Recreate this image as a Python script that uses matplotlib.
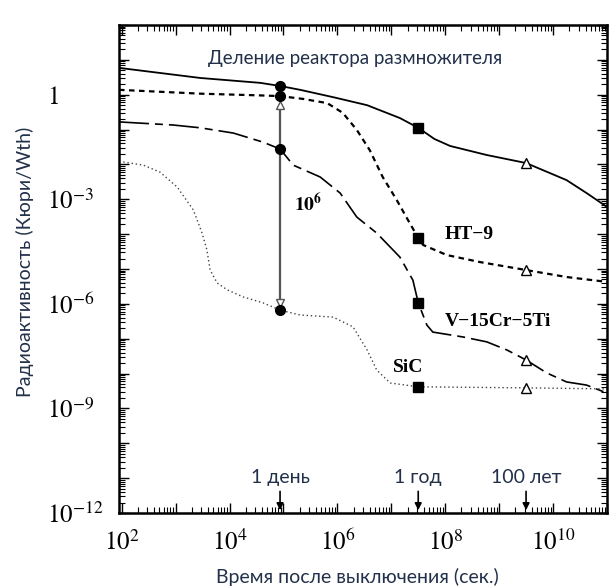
import numpy as np
import matplotlib
matplotlib.use("Agg")
import matplotlib.pyplot as plt
from matplotlib.ticker import LogLocator, FuncFormatter, NullFormatter

plt.rcParams['mathtext.fontset'] = 'stix'

# log10 of time (s) and activity (Ci/Wth)
breeder_t = [1.95, 3.46, 4.57, 4.94, 5.31, 5.92, 6.55, 7.16, 7.50, 7.80, 8.09, 8.77, 9.50, 10.25, 10.62, 11.0]
breeder_a = [0.77, 0.48, 0.34, 0.25, 0.14, -0.07, -0.30, -0.67, -0.95, -1.27, -1.47, -1.73, -1.96, -2.45, -2.82, -3.22]

ht9_t = [1.95, 3.46, 4.57, 4.94, 5.36, 5.81, 6.10, 6.36, 6.60, 6.84, 7.10, 7.34, 7.50, 7.59, 8.03, 8.64, 9.50, 10.25, 11.0]
ht9_a = [0.14, 0.03, -0.02, -0.04, -0.12, -0.24, -0.52, -1.01, -1.59, -2.36, -3.02, -3.68, -4.11, -4.31, -4.60, -4.80, -5.03, -5.23, -5.37]

v_t = [1.95, 2.96, 3.46, 4.07, 4.62, 4.94, 5.18, 5.68, 6.05, 6.36, 6.73, 7.16, 7.40, 7.50, 7.66, 7.77, 8.33, 8.77, 9.14, 9.50, 9.88, 10.25, 10.62, 11.0]
v_a = [-0.78, -0.87, -0.95, -1.10, -1.36, -1.56, -2.02, -2.36, -2.82, -3.51, -3.97, -4.66, -5.32, -5.97, -6.61, -6.81, -6.95, -7.09, -7.32, -7.61, -7.98, -8.24, -8.33, -8.56]

sic_t = [2.03, 2.40, 2.71, 3.03, 3.33, 3.49, 3.58, 3.64, 3.77, 3.96, 4.25, 4.62, 4.94, 5.31, 5.92, 6.29, 6.55, 6.73, 6.98, 7.50, 9.50, 11.0]
sic_a = [-1.93, -2.02, -2.22, -2.65, -3.31, -3.97, -4.45, -5.03, -5.40, -5.60, -5.80, -5.97, -6.18, -6.32, -6.38, -6.66, -7.32, -7.90, -8.27, -8.38, -8.41, -8.44]

# marker times: 1 day, 1 year, 100 years
t_day, t_year, t_century = 86400, 3.156e7, 3.156e9
day_a = [0.25, -0.04, -1.56, -6.18]
year_a = [-0.95, -4.11, -5.97, -8.38]
century_a = [-1.96, -5.03, -7.61, -8.41]
ratio_top, ratio_bot = -0.29, -5.97

time_marks = [t_day, t_year, t_century]
time_names = ["1 день", "1 год", "100 лет"]

def p(a):
    return 10.0 ** np.array(a)

fig = plt.figure(figsize=(6.09, 5.87), dpi=100)
ax = fig.add_axes([119/609, 1 - 513/587, 488/609, 488/587])
ax.set_xscale('log')
ax.set_yscale('log')
ax.set_xlim(10**1.95, 10**11.0)
ax.set_ylim(1e-12, 1e2)

ax.plot(p(breeder_t), p(breeder_a), color='black', lw=1.3)
ax.plot(p(ht9_t), p(ht9_a), color='black', lw=1.6, dashes=(2.5, 2))
ax.plot(p(v_t), p(v_a), color='black', lw=1.2, dashes=(18, 3.6, 4.8, 3.6))
ax.plot(p(sic_t), p(sic_a), color='#444444', lw=1.0, dashes=(1, 2))

# vertical ratio arrow at 1 day
ax.plot([t_day, t_day], p([ratio_top, ratio_bot]), color='#555555', lw=1.6)
ax.plot([t_day], p([ratio_top]), marker='^', ms=6, mfc='white', mec='#555555', ls='none')
ax.plot([t_day], p([ratio_bot]), marker='v', ms=6, mfc='white', mec='#555555', ls='none')

ax.plot([t_day] * 4, p(day_a), 'o', color='black', ms=7, ls='none')
ax.plot([t_year] * 4, p(year_a), 's', color='black', ms=7, ls='none')
ax.plot([t_century] * 4, p(century_a), '^', mfc='white', mec='black', ms=7, ls='none')

ax.text(10**5.2, 10**-3.13, r'$\mathbf{10^6}$', fontsize=14, va='center', ha='left')

serif = dict(family='Liberation Serif', fontweight='bold', fontsize=14, va='center', ha='left')
ax.text(10**7.99, 10**-4.02, 'HT−9', **serif)
ax.text(10**7.99, 10**-6.52, 'V−15Cr−5Ti', **serif)
ax.text(10**7.03, 10**-7.84, 'SiC', **serif)

txt_color = '#22304a'
ax.text(0.484, 0.932, 'Деление реактора размножителя', transform=ax.transAxes,
        fontsize=13.5, family='Lato', color=txt_color, ha='center', va='center')

for t, name in zip(time_marks, time_names):
    ax.annotate('', xy=(t, 1e-12), xytext=(t, 10**-11.3),
                arrowprops=dict(arrowstyle='-|>', color='black', lw=1.2, mutation_scale=10))
    ax.text(t, 10**-10.98, name, fontsize=14, family='Lato', color=txt_color,
            ha='center', va='center')

fig.text(25/609, 1 - 262/587, 'Радиоактивность (Кюри/Wth)', rotation=90,
         fontsize=14, family='Lato', color=txt_color, ha='center', va='center')
fig.text(357/609, 1 - 577/587, 'Время после выключения (сек.)',
         fontsize=14, family='Lato', color=txt_color, ha='center', va='center')

# ticks
ax.xaxis.set_major_locator(LogLocator(base=10, numticks=100))
ax.yaxis.set_major_locator(LogLocator(base=10, numticks=100))
ax.xaxis.set_minor_locator(LogLocator(base=10, subs=np.arange(2, 10), numticks=100))
ax.yaxis.set_minor_locator(LogLocator(base=10, subs=np.arange(2, 10), numticks=100))
ax.xaxis.set_minor_formatter(NullFormatter())
ax.yaxis.set_minor_formatter(NullFormatter())

def xfmt(v, pos):
    e = int(round(np.log10(v)))
    if e % 2 != 0 or e < 2 or e > 10:
        return ''
    return r'$10^{%d}$' % e

def yfmt(v, pos):
    e = int(round(np.log10(v)))
    if e % 3 != 0 or e < -12 or e > 2:
        return ''
    if e == 0:
        return r'$1$'
    return r'$10^{%d}$' % e

ax.xaxis.set_major_formatter(FuncFormatter(xfmt))
ax.yaxis.set_major_formatter(FuncFormatter(yfmt))
ax.tick_params(which='both', direction='in', top=True, right=True)
ax.tick_params(which='major', length=7, width=1)
ax.tick_params(which='minor', length=4, width=0.8)
ax.tick_params(axis='x', which='major', labelsize=18, pad=12)
ax.tick_params(axis='y', which='major', labelsize=18, pad=52)
for tick in ax.yaxis.get_major_ticks():
    tick.label1.set_horizontalalignment('left')
for s in ax.spines.values():
    s.set_linewidth(1.8)

fig.savefig('out.png', dpi=100)
